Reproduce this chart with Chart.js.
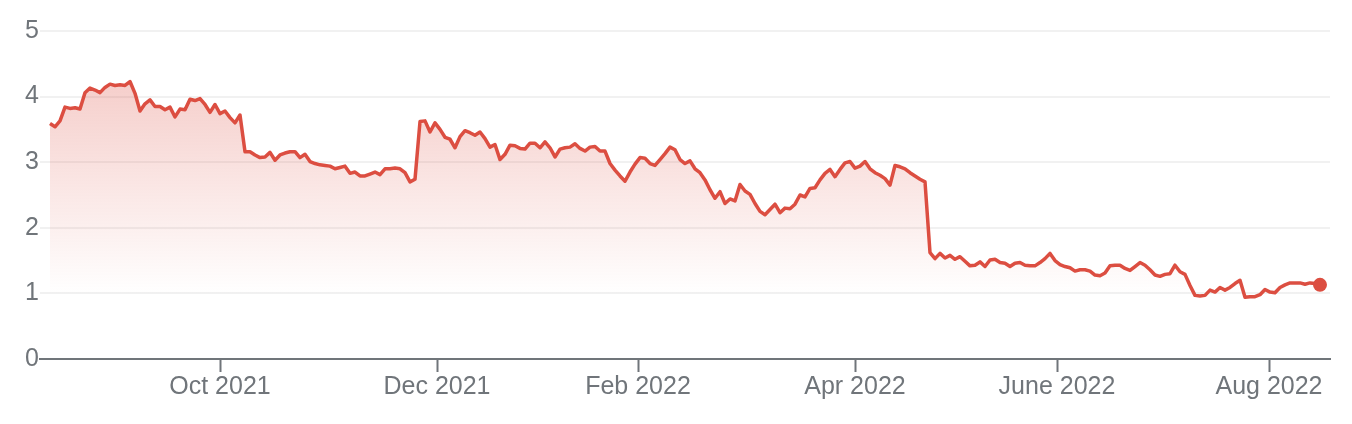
<!DOCTYPE html>
<html>
<head>
<meta charset="utf-8">
<script src="https://cdn.jsdelivr.net/npm/chart.js@4"></script>
<style>
  body { margin: 0; background: #fff; }
</style>
</head>
<body>
<canvas id="chart" width="1352" height="424"></canvas>
<script>
// daily closing values, one per trading day (mid Aug 2021 .. mid Aug 2022)
const values = [
  3.59, 3.54, 3.63, 3.84, 3.82, 3.83, 3.81, 4.06, 4.13, 4.10,
  4.06, 4.14, 4.19, 4.17, 4.18, 4.17, 4.23, 4.05, 3.78, 3.89,
  3.95, 3.85, 3.85, 3.80, 3.84, 3.69, 3.81, 3.80, 3.96, 3.94,
  3.97, 3.88, 3.76, 3.88, 3.74, 3.78, 3.68, 3.60, 3.72, 3.16,
  3.16, 3.11, 3.07, 3.08, 3.15, 3.03, 3.11, 3.14, 3.16, 3.16,
  3.07, 3.12, 3.01, 2.98, 2.96, 2.95, 2.94, 2.90, 2.92, 2.94,
  2.83, 2.85, 2.79, 2.79, 2.82, 2.85, 2.81, 2.90, 2.90, 2.91,
  2.90, 2.84, 2.70, 2.74, 3.62, 3.63, 3.46, 3.60, 3.50, 3.38,
  3.35, 3.22, 3.39, 3.48, 3.45, 3.41, 3.46, 3.36, 3.23, 3.27,
  3.04, 3.12, 3.26, 3.25, 3.21, 3.20, 3.29, 3.29, 3.22, 3.31,
  3.22, 3.08, 3.20, 3.22, 3.23, 3.28, 3.21, 3.17, 3.23, 3.24,
  3.17, 3.17, 2.98, 2.88, 2.79, 2.71, 2.85, 2.97, 3.07, 3.06,
  2.98, 2.95, 3.04, 3.13, 3.23, 3.19, 3.04, 2.98, 3.02, 2.90,
  2.84, 2.73, 2.58, 2.45, 2.55, 2.37, 2.44, 2.41, 2.66, 2.56,
  2.51, 2.37, 2.25, 2.20, 2.28, 2.36, 2.23, 2.30, 2.29, 2.36,
  2.50, 2.47, 2.60, 2.61, 2.73, 2.83, 2.89, 2.78, 2.89, 2.99,
  3.01, 2.91, 2.94, 3.01, 2.90, 2.84, 2.80, 2.75, 2.65, 2.95,
  2.93, 2.90, 2.84, 2.79, 2.74, 2.70, 1.62, 1.53, 1.61, 1.54,
  1.58, 1.52, 1.56, 1.49, 1.42, 1.43, 1.48, 1.41, 1.51, 1.52,
  1.47, 1.46, 1.41, 1.46, 1.47, 1.43, 1.42, 1.42, 1.47, 1.53,
  1.61, 1.50, 1.44, 1.41, 1.39, 1.34, 1.36, 1.36, 1.34, 1.28,
  1.27, 1.31, 1.42, 1.43, 1.43, 1.38, 1.35, 1.41, 1.47, 1.43,
  1.36, 1.28, 1.26, 1.29, 1.30, 1.43, 1.33, 1.29, 1.12, 0.97,
  0.96, 0.97, 1.05, 1.02, 1.09, 1.05, 1.09, 1.15, 1.20, 0.94,
  0.95, 0.95, 0.98, 1.06, 1.02, 1.01, 1.09, 1.13, 1.16, 1.16,
  1.16, 1.14, 1.16, 1.15, 1.13
];

// month ticks, given as position along the trading-day index
const tickPositions = [34, 77.4, 117.6, 161, 201.4, 243.8];
const tickLabels = ["Oct 2021", "Dec 2021", "Feb 2022", "Apr 2022", "June 2022", "Aug 2022"];

const yTicks = [0, 1, 2, 3, 4, 5];

const red = "#dc4e41";
const grey = "#70757a";

let ctx = document.getElementById("chart").getContext("2d");

let chart = new Chart(ctx, {
    type: "line",
    data: {
        datasets: [
            {
                data: values.map((v, i) => ({ x: i, y: v })),
                borderColor: red,
                borderWidth: 3.5,
                borderJoinStyle: "round",
                tension: 0,
                fill: "origin",
                backgroundColor: function (c) {
                    const area = c.chart.chartArea;
                    if (!area) return "rgba(220,78,65,0.15)";
                    const g = c.chart.ctx.createLinearGradient(0, area.top, 0, 295);
                    g.addColorStop(0, "rgba(220,78,65,0.34)");
                    g.addColorStop(1, "rgba(220,78,65,0)");
                    return g;
                },
                pointRadius: (c) => c.dataIndex === values.length - 1 ? 7 : 0,
                pointBackgroundColor: red,
                pointBorderWidth: 0,
                pointHoverRadius: 0
            }
        ]
    },
    options: {
        responsive: false,
        animation: false,
        events: [],
        layout: { padding: { top: 31, right: 22, left: 0, bottom: 0 } },
        plugins: {
            legend: { display: false },
            tooltip: { enabled: false }
        },
        scales: {
            x: {
                type: "linear",
                min: -2,
                max: 256,
                afterBuildTicks: (scale) => {
                    scale.ticks = tickPositions.map(v => ({ value: v }));
                },
                afterFit: (scale) => { scale.height = 65; },
                grid: {
                    drawOnChartArea: false,
                    drawTicks: true,
                    tickLength: 13,
                    tickWidth: 2,
                    tickColor: grey
                },
                border: { display: true, color: grey, width: 2 },
                ticks: {
                    autoSkip: false,
                    maxRotation: 0,
                    padding: 0,
                    color: grey,
                    font: { family: "'Liberation Sans', Arial, sans-serif", size: 25 },
                    callback: (value, index) => tickLabels[index]
                }
            },
            y: {
                min: 0,
                max: 5,
                afterBuildTicks: (scale) => {
                    scale.ticks = yTicks.map(v => ({ value: v }));
                },
                afterFit: (scale) => { scale.width = 40; },
                grid: {
                    color: "#f1f1f1",
                    lineWidth: 2,
                    drawTicks: false
                },
                border: { display: false },
                ticks: {
                    padding: 1,
                    color: grey,
                    font: { family: "'Liberation Sans', Arial, sans-serif", size: 25 }
                }
            }
        }
    }
});
</script>
</body>
</html>
